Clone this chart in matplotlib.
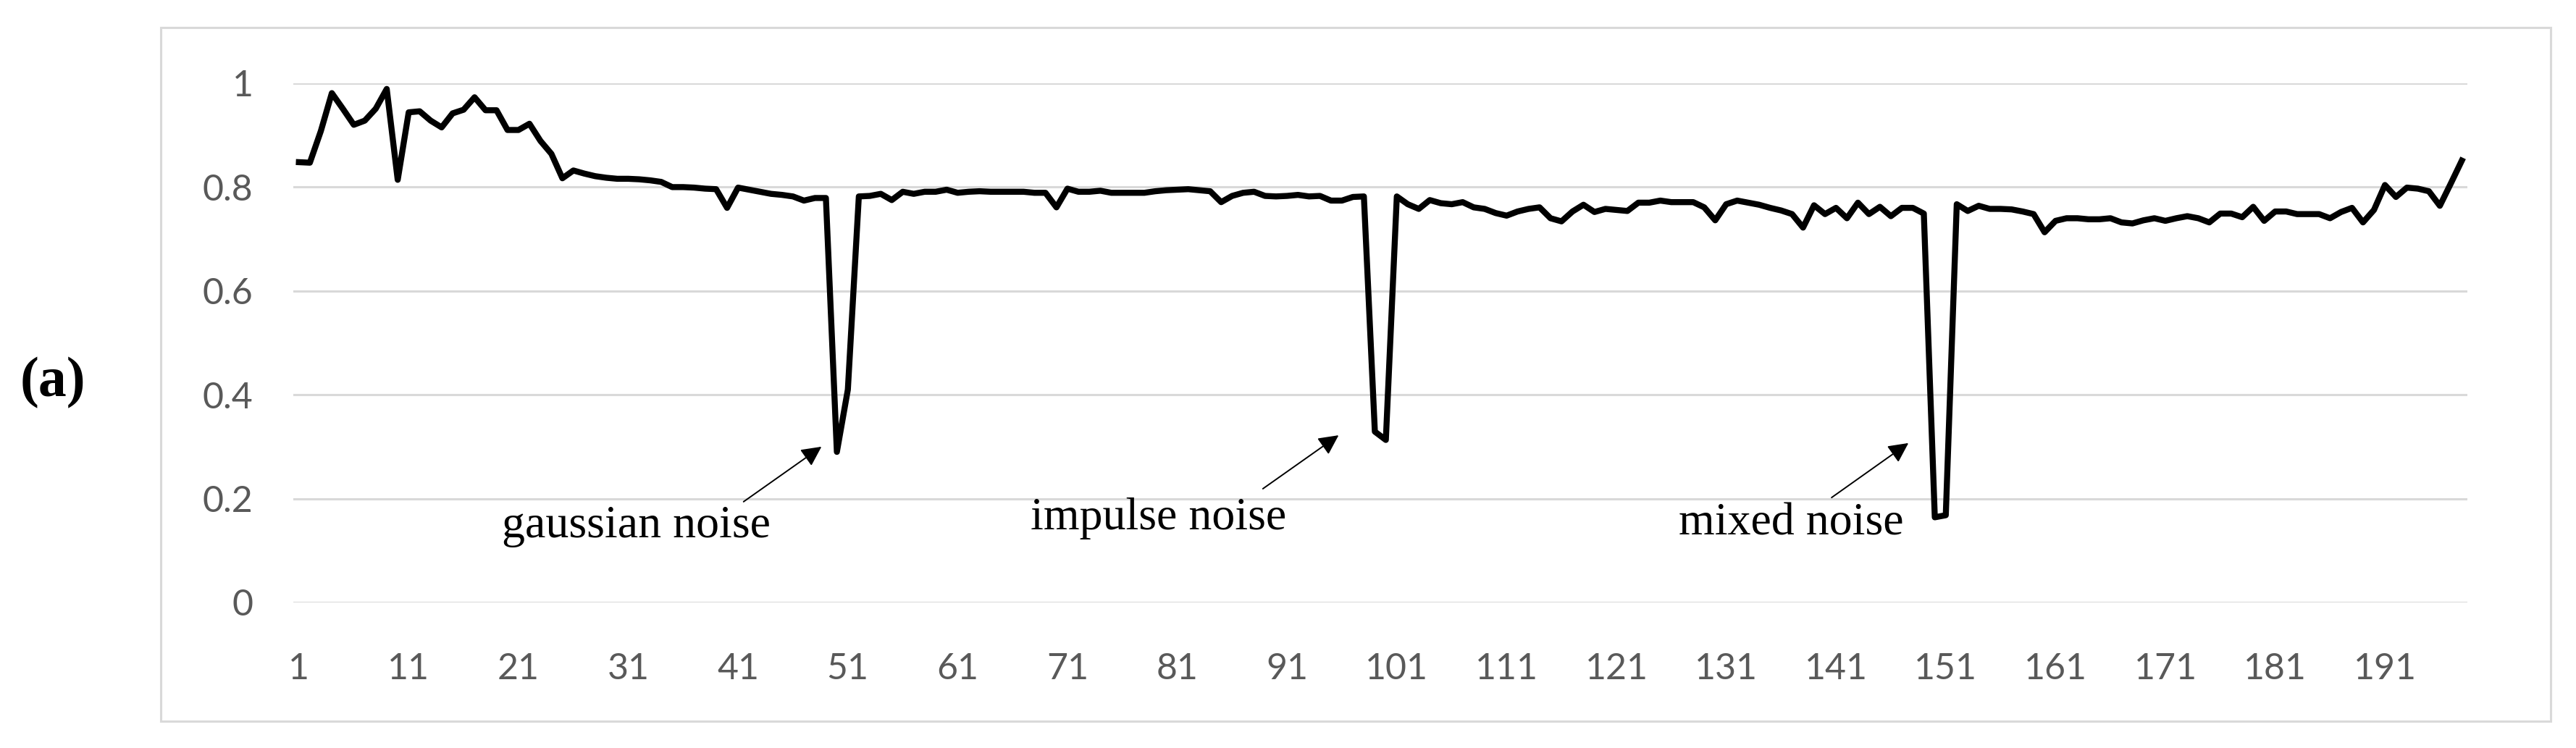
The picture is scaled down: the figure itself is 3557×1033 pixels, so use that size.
import matplotlib.pyplot as plt
import matplotlib.patches as patches
import numpy as np

# values for each of the 198 samples
values = [
    0.848, 0.847, 0.908, 0.981, 0.951, 0.920, 0.928, 0.951, 0.989, 0.814,
    0.944, 0.946, 0.928, 0.915, 0.942, 0.949, 0.973, 0.948, 0.948, 0.910,
    0.910, 0.922, 0.889, 0.864, 0.817, 0.832, 0.826, 0.821, 0.818, 0.816,
    0.816, 0.815, 0.813, 0.810, 0.800, 0.800, 0.799, 0.797, 0.796, 0.760,
    0.799, 0.795, 0.791, 0.787, 0.785, 0.782, 0.774, 0.779, 0.779, 0.290,
    0.410, 0.782, 0.783, 0.787, 0.775, 0.791, 0.787, 0.791, 0.791, 0.795,
    0.789, 0.791, 0.792, 0.791, 0.791, 0.791, 0.791, 0.789, 0.789, 0.761,
    0.797, 0.791, 0.791, 0.793, 0.789, 0.789, 0.789, 0.789, 0.792, 0.794,
    0.795, 0.796, 0.794, 0.792, 0.771, 0.783, 0.789, 0.791, 0.783, 0.782,
    0.783, 0.785, 0.782, 0.783, 0.774, 0.774, 0.781, 0.782, 0.329, 0.313,
    0.782, 0.767, 0.758, 0.775, 0.769, 0.767, 0.771, 0.761, 0.758, 0.750,
    0.745, 0.753, 0.758, 0.761, 0.740, 0.734, 0.753, 0.766, 0.752, 0.758,
    0.756, 0.754, 0.770, 0.770, 0.774, 0.771, 0.771, 0.771, 0.761, 0.736,
    0.767, 0.774, 0.770, 0.766, 0.760, 0.755, 0.748, 0.722, 0.765, 0.748,
    0.760, 0.740, 0.770, 0.748, 0.762, 0.744, 0.760, 0.760, 0.749, 0.164,
    0.168, 0.767, 0.754, 0.764, 0.758, 0.758, 0.757, 0.753, 0.748, 0.713,
    0.735, 0.740, 0.740, 0.738, 0.738, 0.740, 0.732, 0.730, 0.736, 0.740,
    0.735, 0.740, 0.744, 0.740, 0.732, 0.749, 0.749, 0.742, 0.762, 0.735,
    0.753, 0.753, 0.748, 0.748, 0.748, 0.740, 0.752, 0.760, 0.732, 0.756,
    0.804, 0.781, 0.799, 0.797, 0.792, 0.764, 0.807, 0.851,
]
samples = np.arange(1, len(values) + 1)

x_ticks = list(range(1, 192, 10))
x_labels = [str(t) for t in x_ticks]
y_ticks = [0, 0.2, 0.4, 0.6, 0.8, 1.0]
y_labels = ['0', '0.2', '0.4', '0.6', '0.8', '1']

# noise annotations: label, text pos, arrow tail, arrow head (data coords)
notes = [
    ('gaussian noise', (31.7, 0.126), (41.5, 0.194), (48.6, 0.300)),
    ('impulse noise', (79.3, 0.141), (88.8, 0.219), (95.7, 0.322)),
    ('mixed noise', (136.9, 0.130), (140.6, 0.202), (147.6, 0.307)),
]

grid_c = '#d9d9d9'
tick_c = '#595959'

fig = plt.figure(figsize=(35.57, 10.33), dpi=100)
ax = fig.add_axes([0.1139, 0.1946, 0.8439, 0.6941])

# outer chart frame
fig.patches.append(patches.Rectangle((222 / 3557, 1 - 996 / 1033), (3522 - 222) / 3557,
                                     (996 - 38) / 1033, transform=fig.transFigure,
                                     fill=False, edgecolor=grid_c, lw=2.2))

ax.plot(samples, values, color='black', lw=6, solid_joinstyle='round', clip_on=False, zorder=3)

ax.set_xlim(0.5, len(values) + 0.5)
ax.set_ylim(0, 1)
for s in ax.spines.values():
    s.set_visible(False)
ax.set_yticks(y_ticks)
ax.set_yticklabels(y_labels)
ax.set_xticks(x_ticks)
ax.set_xticklabels(x_labels)
ax.grid(axis='y', color=grid_c, lw=2.2)
ax.set_axisbelow(True)
ax.tick_params(axis='both', length=0, labelsize=36, labelcolor=tick_c)
ax.tick_params(axis='y', pad=40)
ax.tick_params(axis='x', pad=50)
for lab in ax.get_xticklabels() + ax.get_yticklabels():
    lab.set_family(['Lato', 'DejaVu Sans'])
    lab.set_fontweight('normal')

for txt, tpos, tail, head in notes:
    ax.text(tpos[0], tpos[1], txt, ha='center', va='baseline', fontsize=46,
            family=['Liberation Serif', 'DejaVu Serif'], color='black')
    ax.annotate('', xy=head, xytext=tail,
                arrowprops=dict(arrowstyle='-|>', color='black', lw=1.4,
                                mutation_scale=42, shrinkA=0, shrinkB=0))

fig.text(73 / 3557, 1 - 529 / 1033, '(a)', ha='center', va='center', fontsize=56,
         fontweight='bold', family=['Liberation Serif', 'DejaVu Serif'])

plt.savefig('out.png', dpi=100)
